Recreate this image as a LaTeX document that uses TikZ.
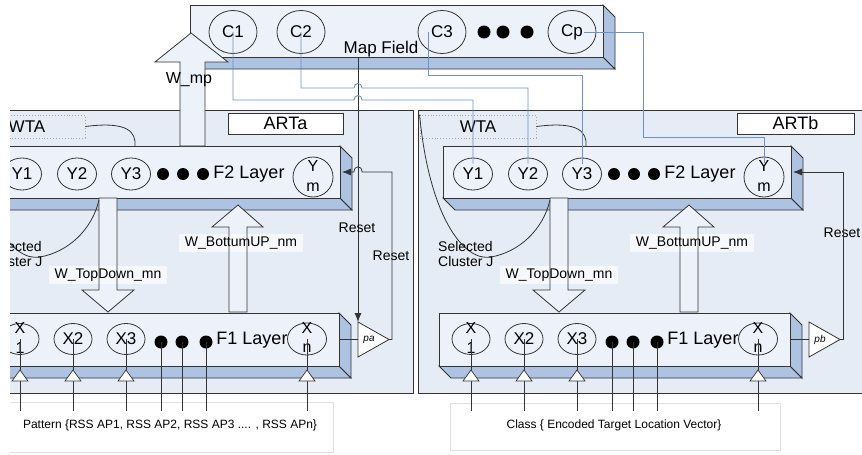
\documentclass[tikz,border=0pt]{standalone}
\usepackage{fontspec}
\setmainfont{Liberation Sans}
\usetikzlibrary{shapes.geometric,arrows.meta}
\definecolor{bgc}{HTML}{E6ECF6}
\definecolor{frontc}{HTML}{EDF2FA}
\definecolor{bevc}{HTML}{AEC2E2}
\definecolor{linec}{HTML}{333333}
\definecolor{bluel}{HTML}{6D91CC}
\definecolor{labbg}{HTML}{F6F8FC}
\definecolor{pbord}{HTML}{E0E0E0}
\tikzset{
 fs/.style={font=\fontsize{#1}{#1}\selectfont},
 artbox/.style={draw=linec, fill=bgc, line width=0.8pt},
 frontface/.style={draw=linec, fill=frontc, line width=0.8pt},
 bevelface/.style={draw=linec, fill=bevc, line width=0.8pt},
 neuron/.style={ellipse, draw=linec, line width=0.8pt, minimum width=39pt, minimum height=32pt, inner sep=0pt, fs=17},
 bigneuron/.style={ellipse, draw=linec, line width=0.8pt, minimum width=40pt, minimum height=40pt, inner sep=0pt},
 cnode/.style={ellipse, draw=linec, line width=0.8pt, minimum width=48pt, minimum height=43pt, inner sep=0pt, fs=17},
 dotn/.style={circle, fill=black, minimum size=12pt, inner sep=0pt},
 txt/.style={inner sep=0pt, fs=16},
 laylab/.style={inner sep=0pt, fs=18},
 wlab/.style={fill=labbg, inner xsep=6pt, inner ysep=3pt, fs=14},
 small/.style={inner sep=0pt, fs=14},
 wtabox/.style={draw=gray!70, dotted, line width=0.9pt, minimum width=116pt, minimum height=23pt, inner sep=0pt, fs=17},
 titlebox/.style={draw=linec, fill=white, line width=0.8pt, minimum height=21pt, inner sep=0pt, fs=18},
 inarrow/.style={draw=linec, fill=white, line width=0.7pt},
 conn/.style={draw=linec, line width=0.8pt},
 bline/.style={draw=bluel, line width=0.9pt},
 tipa/.style={-{Latex[length=9pt,width=7pt]}},
 pbox/.style={draw=pbord, fill=white, line width=0.6pt},
 cmplab/.style={inner sep=0pt, font=\fontsize{10}{10}\selectfont\itshape},
}
% 3D slab: x1 y1 x2 y2 (front face)
\newcommand\slabbox[4]{%
 \draw[bevelface] (#1,#4) -- (#3,#4) -- ({#3+12},{#4+12}) -- ({#1+12},{#4+12}) -- cycle;
 \draw[bevelface] (#3,#2) -- ({#3+12},{#2+12}) -- ({#3+12},{#4+12}) -- (#3,#4) -- cycle;
 \draw[frontface] (#1,#2) rectangle (#3,#4);}
% ART module: offset, suffix, comparator label
\newcommand\artmod[3]{%
\begin{scope}[xshift=#1pt]
 \node[wtabox] (wta#2) at (27,126.5) {WTA};
 \slabbox{-8}{146}{340}{198}
 \coordinate (f2top#2) at (135,146);
 \draw[conn] (wta#2.east) .. controls (128,121) and (136,132) .. (f2top#2);
 \node[neuron] (Y1#2) at (22,174) {Y1};
 \node[neuron] (Y2#2) at (77,174) {Y2};
 \node[neuron] (Y3#2) at (131,174) {Y3};
 \node[dotn] (fd1#2) at (163,174) {};
 \node[dotn] (fd2#2) at (183,174) {};
 \node[dotn] (fd3#2) at (203,174) {};
 \node[laylab] (f2l#2) at (249,174) {F2 Layer};
 \node[bigneuron] (Ym#2) at (313,177) {};
 \node[txt] (Ymy#2) at (313,166) {Y};
 \node[txt] (Ymm#2) at (313,187) {m};
 % F1
 \slabbox{-12}{313}{339}{366}
 \node[neuron, minimum width=38pt, minimum height=31pt] (X1#2) at (20,339) {};
 \node[txt] (X1x#2) at (20,328) {X};
 \node[txt] (X1n#2) at (20,348) {1};
 \node[neuron, minimum width=38pt, minimum height=31pt] (X2#2) at (73,339) {X2};
 \node[neuron, minimum width=38pt, minimum height=31pt] (X3#2) at (126,339) {X3};
 \node[dotn, minimum size=13pt] (ed1#2) at (161,342) {};
 \node[dotn, minimum size=13pt] (ed2#2) at (182,342) {};
 \node[dotn, minimum size=13pt] (ed3#2) at (206,342) {};
 \node[laylab] (f1l#2) at (252,340) {F1 Layer};
 \node[neuron, minimum width=39pt, minimum height=32pt] (Xn#2) at (307,339) {};
 \node[txt] (Xnx#2) at (307,328) {X};
 \node[txt] (Xnn#2) at (307,348) {n};
 % inputs
 \foreach \nn/\xx in {X1/20, X2/73, X3/126, Xn/307} {
   \coordinate (in\nn#2) at (\xx,411);
   \draw[conn] (in\nn#2) -- (\nn#2.center);
   \draw[inarrow] (\xx,370) -- ({\xx-8},381) -- ({\xx+8},381) -- cycle;
 }
 \foreach \nn/\xx in {ed1/161, ed2/182, ed3/206} {
   \coordinate (in\nn#2) at (\xx,411);
   \draw[conn] (in\nn#2) -- (\nn#2.center);
 }
 % top-down arrow
 \fill[frontc] (99,198) -- (99,290) -- (82,290) -- (108,312) -- (134,290) -- (117,290) -- (117,198) -- cycle;
 \node[wlab] (td#2) at (108,275) {W\_TopDown\_mn};
 \draw[conn] (99,198) -- (99,290) -- (82,290) -- (108,312) -- (134,290) -- (117,290) -- (117,198) -- cycle;
 % bottom-up arrow
 \fill[frontc] (229,312) -- (229,227) -- (212,227) -- (238,205) -- (263,227) -- (247,227) -- (247,312) -- cycle;
 \node[wlab] (bu#2) at (241,243) {W\_BottumUP\_nm};
 \draw[conn] (229,312) -- (229,227) -- (212,227) -- (238,205) -- (263,227) -- (247,227) -- (247,312) -- cycle;
 % selected cluster
 \draw[conn] (wta#2.north west) .. controls (-22,215) and (12,262) .. (40,257) .. controls (68,252) and (92,230) .. (99,200);
 \node[small, anchor=west] (sel#2) at (-13,246) {Selected};
 \node[small, anchor=west] (clu#2) at (-13,261) {Cluster J};
 % comparator
 \coordinate (f1r#2) at (339,339.5);
 \coordinate (cin#2) at (358,339.5);
 \coordinate (ctop#2) at (358,322);
 \coordinate (cbot#2) at (358,357);
 \coordinate (ctip#2) at (389,339.5);
 \coordinate (f2r#2) at (342,172);
 \draw[conn] (f1r#2) -- (cin#2);
 \draw[inarrow, line width=0.8pt] (ctop#2) -- (cbot#2) -- (ctip#2) -- cycle;
 \node[cmplab] (cl#2) at (369,340) {#3};
\end{scope}}
\begin{document}
\begin{tikzpicture}[x=1pt,y=-1pt]
\useasboundingbox (0,0) rectangle (862,455);
\fill[white] (0,0) rectangle (862,455);
\clip (10,-5) rectangle (872,460);
% ART frames
\draw[artbox] (3,110) rectangle (413,393);
\draw[artbox] (418,110) rectangle (880,393);
\node[titlebox, minimum width=115pt] (tA) at (285.5,123.5) {ARTa};
\node[titlebox, minimum width=117pt] (tB) at (795.5,123.5) {ARTb};
% input pattern boxes
\draw[pbox] (3,402) rectangle (333,452);
\draw[pbox] (450,403) rectangle (780,450);
\node[fs=12] (patA) at (170,425) {Pattern \{RSS AP1, RSS AP2, RSS AP3 .... , RSS APn\}};
\node[fs=12] (patB) at (614,425) {Class \{ Encoded Target Location Vector\}};
% modules
\artmod{0}{a}{pa}
\artmod{451}{b}{pb}
% map field
\slabbox{190}{5}{603}{57}
\node[cnode] (C1) at (233,32) {C1};
\node[cnode] (C2) at (301,32) {C2};
\node[cnode] (C3) at (442,32) {C3};
\node[dotn, minimum size=13pt] (md1) at (484,32) {};
\node[dotn, minimum size=13pt] (md2) at (503,32) {};
\node[dotn, minimum size=13pt] (md3) at (527,32) {};
\node[cnode] (Cp) at (572,32) {Cp};
\node[inner sep=0pt, fs=17] (mf) at (381,49) {Map Field};
% W_mp arrow
\draw[conn, fill=frontc] (180,146) -- (180,62) -- (155,62) -- (191,33) -- (228,62) -- (205,62) -- (205,146) -- cycle;
\node[inner sep=0pt, fs=16] (wmp) at (189,80) {W\_mp};
% reset from map field
\coordinate (mfb) at (358,57);
\draw[conn, tipa] (mfb) -- (ctopa);
\node[small] (r1) at (357,228) {Reset};
\node[small] (r2) at (391,256) {Reset};
\node[small] (r3) at (842,233) {Reset};
\draw[conn, tipa] (ctipa) -- (392,339.5) -- (392,172) -- (362,172) .. controls (362,165) and (354,165) .. (354,172) -- (f2ra);
\draw[conn, tipa] (ctipb) -- (843,339.5) -- (843,172) -- (f2rb);
% map field to ARTb
\draw[bline] (C1.center) -- (233,100) -- (354,100) .. controls (354,94) and (362,94) .. (362,100) -- (473,100) -- ([yshift=-6pt]Y1b.north);
\draw[bline] (C2.center) -- (301,88) -- (354,88) .. controls (354,82) and (362,82) .. (362,88) -- (528,88) -- ([yshift=-6pt]Y2b.north);
\draw[bline] ([xshift=-14pt]C3.center) -- (428,75) -- (582,75) -- ([yshift=-6pt]Y3b.north);
\draw[bline] ([xshift=12pt]Cp.center) -- (643,32) -- (643,137) -- (764,137) -- ([yshift=-6pt]Ymb.north);
\end{tikzpicture}
\end{document}
